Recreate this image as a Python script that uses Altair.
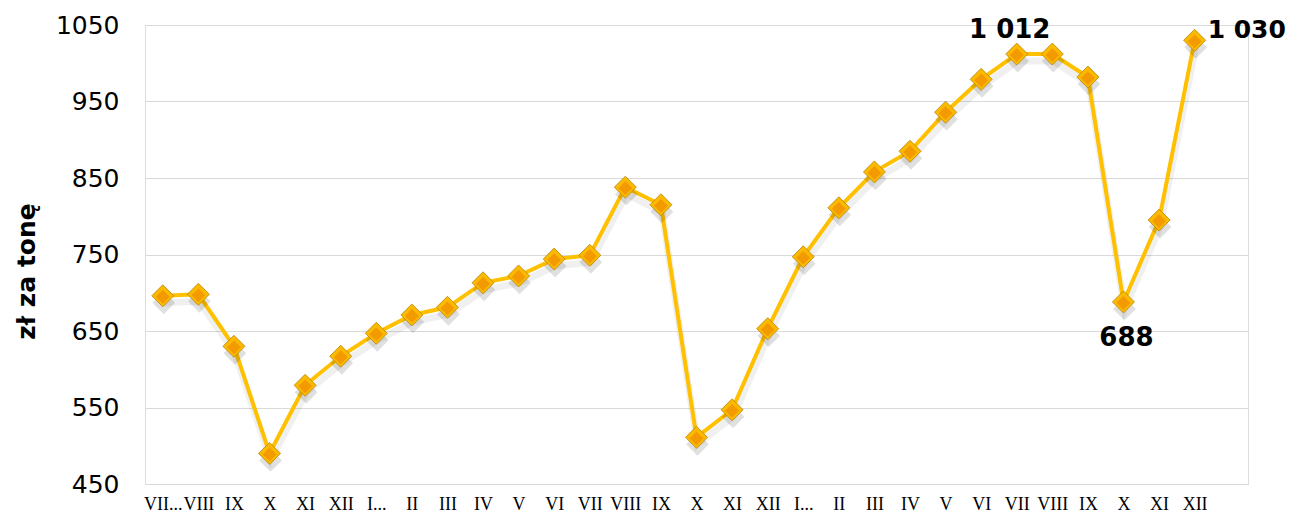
import altair as alt
import pandas as pd

months = ["VII...", "VIII", "IX", "X", "XI", "XII", "I...", "II", "III", "IV", "V", "VI",
          "VII", "VIII", "IX", "X", "XI", "XII", "I...", "II", "III", "IV", "V", "VI",
          "VII", "VIII", "IX", "X", "XI", "XII"]
prices = [696, 698, 630, 490, 579, 617, 647, 671, 681, 713, 722, 744,
          749, 838, 815, 511, 547, 653, 747, 811, 858, 885, 936, 979,
          1012, 1012, 982, 688, 795, 1030]
y_ticks = [450, 550, 650, 750, 850, 950, 1050]

# annotated points: index, text, dx, dy, align
ann_idx = [24, 27, 29]
ann_text = ["1 012", "688", "1 030"]
ann_dx = [-7, 3, 13]
ann_dy = [-16, 44, -2]
ann_align = ["center", "center", "left"]
ann_size = [26, 26, 25]

df = pd.DataFrame({"i": list(range(len(prices))), "m": months, "v": prices})

label_expr = "[" + ",".join('"%s"' % m for m in months) + "][datum.value]"

x = alt.X("i:Q", scale=alt.Scale(domain=[-0.5, 30.5], nice=False, zero=False),
          axis=alt.Axis(values=list(range(30)), labelExpr=label_expr, title=None,
                        grid=False, domain=False, ticks=False, labelFont="Liberation Serif",
                        labelFontSize=18, labelColor="#000000", labelPadding=11,
                        labelOverlap=False, labelFlush=False))
y = alt.Y("v:Q", scale=alt.Scale(domain=[450, 1050], nice=False, zero=False),
          axis=alt.Axis(values=y_ticks, format="d", title="zł za tonę", titleFont="DejaVu Sans",
                        titleFontSize=25, titleFontWeight="bold", titleColor="#000000",
                        titleX=-119, titleY=246, titleAngle=270, titleAlign="center",
                        titleBaseline="middle",
                        labelFont="DejaVu Sans", labelFontSize=25,
                        labelColor="#000000", labelPadding=26, domain=False, ticks=False,
                        gridColor="#d9d9d9", gridWidth=1))

base = alt.Chart(df)

shadow_line = base.mark_line(color="#000000", opacity=0.06, strokeWidth=7, xOffset=1, yOffset=7).encode(x=x, y=y)
line = base.mark_line(color="#FFC000", strokeWidth=4).encode(x=x, y=y)
shadow_pts = base.mark_point(shape="diamond", filled=True, color="#000000", opacity=0.12,
                             size=520, xOffset=1, yOffset=7).encode(x=x, y=y)
outer = base.mark_point(shape="diamond", filled=True, fill="#FBB900", stroke="#B8860B",
                        strokeWidth=0.8, opacity=1, size=484).encode(x=x, y=y)
inner = base.mark_point(shape="diamond", filled=True, fill="#F29A00", opacity=1,
                        size=190, yOffset=1).encode(x=x, y=y)

layers = [shadow_line, line, shadow_pts, outer, inner]
for k in range(len(ann_idx)):
    d = pd.DataFrame({"i": [ann_idx[k]], "v": [prices[ann_idx[k]]], "t": [ann_text[k]]})
    layers.append(alt.Chart(d).mark_text(font="DejaVu Sans", fontSize=ann_size[k], fontWeight="bold",
                                         color="#000000", align=ann_align[k], baseline="alphabetic",
                                         dx=ann_dx[k], dy=ann_dy[k]).encode(x=x, y=y, text="t:N"))

chart = alt.layer(*layers).properties(
    width=1103, height=459,
    autosize=alt.AutoSizeParams(type="none"),
    padding={"left": 137, "top": 17, "right": 39, "bottom": 30},
).configure_view(stroke=None).configure(background="#ffffff")

chart.save("out.html", embed_options={"renderer": "svg", "actions": False})
